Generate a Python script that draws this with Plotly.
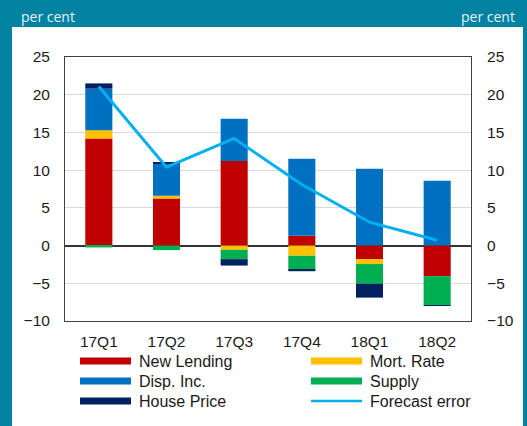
import plotly.graph_objects as go

categories = ["17Q1", "17Q2", "17Q3", "17Q4", "18Q1", "18Q2"]
new_lending = [14.2, 6.25, 11.2, 1.3, -1.8, -4.05]
mort_rate = [1.1, 0.35, -0.55, -1.35, -0.65, 0.0]
disp_inc = [5.5, 4.3, 5.6, 10.2, 10.2, 8.6]
supply = [-0.25, -0.6, -1.25, -1.85, -2.6, -3.85]
house_price = [0.7, 0.15, -0.85, -0.2, -1.85, -0.1]
forecast_error = [21.1, 10.4, 14.2, 8.1, 3.1, 0.7]
y_ticks = [-10, -5, 0, 5, 10, 15, 20, 25]

bar_series = [
    ("New Lending", new_lending, "#C00000"),
    ("Mort. Rate", mort_rate, "#FFC000"),
    ("Disp. Inc.", disp_inc, "#0070C0"),
    ("Supply", supply, "#00B050"),
    ("House Price", house_price, "#002060"),
]
line_name, line_color = "Forecast error", "#00B0F0"

W, H = 527, 426
L, R, T, B = 65, 56, 57, 105
pw, ph = W - L - R, H - T - B

def px(x):
    return (x - L) / pw

def py(y):
    return (H - B - y) / ph

fig = go.Figure()
for name, vals, col in bar_series:
    fig.add_trace(go.Bar(x=categories, y=vals, name=name, marker_color=col,
                         marker_line_width=0, showlegend=False))
fig.add_trace(go.Scatter(x=categories, y=forecast_error, name=line_name, mode="lines",
                         line=dict(color=line_color, width=3), showlegend=False))
# invisible trace on right axis
fig.add_trace(go.Scatter(x=categories, y=forecast_error, yaxis="y2", mode="lines",
                         line=dict(width=0), opacity=0, showlegend=False, hoverinfo="skip"))

font = dict(family="Liberation Sans, Arial, sans-serif", size=16, color="#1a1a1a")
tfont = dict(family="Liberation Sans, Arial, sans-serif", size=15.5, color="#1a1a1a")
teal = "#0082A0"

shapes = [dict(type="rect", xref="paper", yref="paper", x0=px(12), x1=px(523),
               y0=py(430), y1=py(27), fillcolor="white", line_width=0, layer="below")]
annotations = [
    dict(text="per cent", xref="paper", yref="paper", x=px(19), y=py(16), xanchor="left",
         yanchor="middle", showarrow=False,
         font=dict(family="Open Sans, sans-serif", size=14, color="#e6f2f5")),
    dict(text="per cent", xref="paper", yref="paper", x=px(517), y=py(16), xanchor="right",
         yanchor="middle", showarrow=False,
         font=dict(family="Open Sans, sans-serif", size=14, color="#e6f2f5")),
]

legend_items = [(n, c, 7) for n, _, c in bar_series] + [(line_name, line_color, 2.5)]
order = ["New Lending", "Mort. Rate", "Disp. Inc.", "Supply", "House Price", "Forecast error"]
lookup = {n: (c, w) for n, c, w in legend_items}
for i, n in enumerate(order):
    col_i, row_i = i % 2, i // 2
    x0 = 80 + col_i * 231
    yc = 361 + row_i * 20
    c, w = lookup[n]
    shapes.append(dict(type="line", xref="paper", yref="paper", x0=px(x0), x1=px(x0 + 51),
                       y0=py(yc), y1=py(yc), line=dict(color=c, width=w)))
    annotations.append(dict(text=n, xref="paper", yref="paper", x=px(x0 + 57), y=py(yc),
                            xanchor="left", yanchor="middle", showarrow=False, font=font))

fig.update_layout(
    width=W, height=H,
    margin=dict(l=L, r=R, t=T, b=B, pad=0),
    paper_bgcolor=teal, plot_bgcolor="white",
    barmode="relative", bargap=0.6,
    font=font, showlegend=False,
    xaxis=dict(showline=True, linecolor="#404040", linewidth=1, mirror=True,
               ticks="outside", ticklen=6, tickcolor="rgba(0,0,0,0)",
               tickfont=tfont, showgrid=False),
    yaxis=dict(range=[-10, 25], tickvals=y_ticks, showline=True, linecolor="#404040",
               linewidth=1, mirror=True, gridcolor="#d9d9d9", gridwidth=1,
               zeroline=True, zerolinecolor="#333333", zerolinewidth=1.5,
               ticks="outside", ticklen=11, tickcolor="rgba(0,0,0,0)", tickfont=tfont),
    yaxis2=dict(range=[-10, 25], tickvals=y_ticks, overlaying="y", side="right",
                showgrid=False, zeroline=False, showline=False,
                ticks="outside", ticklen=12, tickcolor="rgba(0,0,0,0)", tickfont=tfont),
    shapes=shapes, annotations=annotations,
)

fig.write_html("out.html", config={"displayModeBar": False},
               post_script="document.body.style.margin='0';document.body.style.overflow='hidden';")
